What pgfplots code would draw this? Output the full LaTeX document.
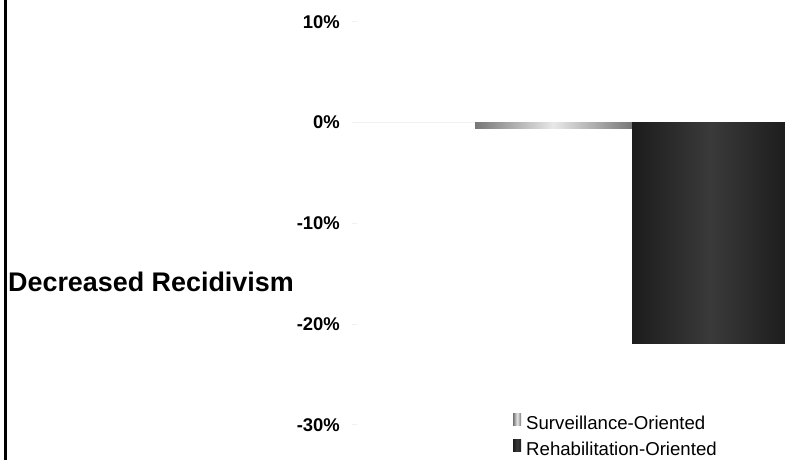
\documentclass[border=0pt]{standalone}
\usepackage{pgfplots}
\pgfplotsset{compat=1.18}
\usepackage{fontspec}
\setmainfont{Liberation Sans}

\definecolor{survedge}{HTML}{777777}
\definecolor{survmid}{HTML}{E8E8E8}
\definecolor{rehabedge}{HTML}{1C1C1C}
\definecolor{rehabmid}{HTML}{3A3A3A}

\begin{document}
\begin{tikzpicture}[x=1bp,y=1bp]
\useasboundingbox (0,0) rectangle (785,460);
\clip (0,0) rectangle (785,460);
% left border of the frame
\draw[black, line width=3bp] (5.5,0) -- (5.5,460);
\node[anchor=base west, inner sep=0pt, font=\bfseries\fontsize{27}{30}\selectfont] at (8,168) {Decreased Recidivism};
\begin{axis}[
    at={(357,35)}, anchor=south west,
    scale only axis, width=428bp, height=403bp,
    xmin=357, xmax=785, ymin=-30, ymax=10,
    axis x line=none,
    axis y line*=left,
    y axis line style={draw=none},
    ytick={-30,-20,-10,0,10},
    yticklabels={-30\%,-20\%,-10\%,0\%,10\%},
    yticklabel style={font=\bfseries\fontsize{18.5}{20}\selectfont, inner sep=0pt, anchor=east, xshift=-12bp},
    tick align=outside, major tick length=5bp,
    tick style={gray!12, line width=0.6bp},
    clip=false,
    legend style={draw=none, fill=none, at={(axis cs:513,-28.9)}, anchor=north west,
        inner sep=0pt, font=\fontsize{18.7}{20}\selectfont,
        nodes={inner sep=1bp}, row sep=7bp, column sep=4bp},
    legend cell align=left,
    legend image code/.code={\path[#1, draw=none] (0bp,-2bp) rectangle (8bp,10bp);},
]
\draw[gray!10, line width=0.6bp] (axis cs:357,0) -- (axis cs:475,0);
\addplot[ybar, bar width=157, bar shift=0pt, draw=none,
    left color=survedge, right color=survedge, middle color=survmid]
    coordinates {(553.5,-0.6)};
\addlegendentry{Surveillance-Oriented}
\addplot[ybar, bar width=157, bar shift=0pt, draw=none,
    left color=rehabedge, right color=rehabedge, middle color=rehabmid]
    coordinates {(710.5,-21.9)};
\addlegendentry{Rehabilitation-Oriented}
\end{axis}
\end{tikzpicture}
\end{document}
